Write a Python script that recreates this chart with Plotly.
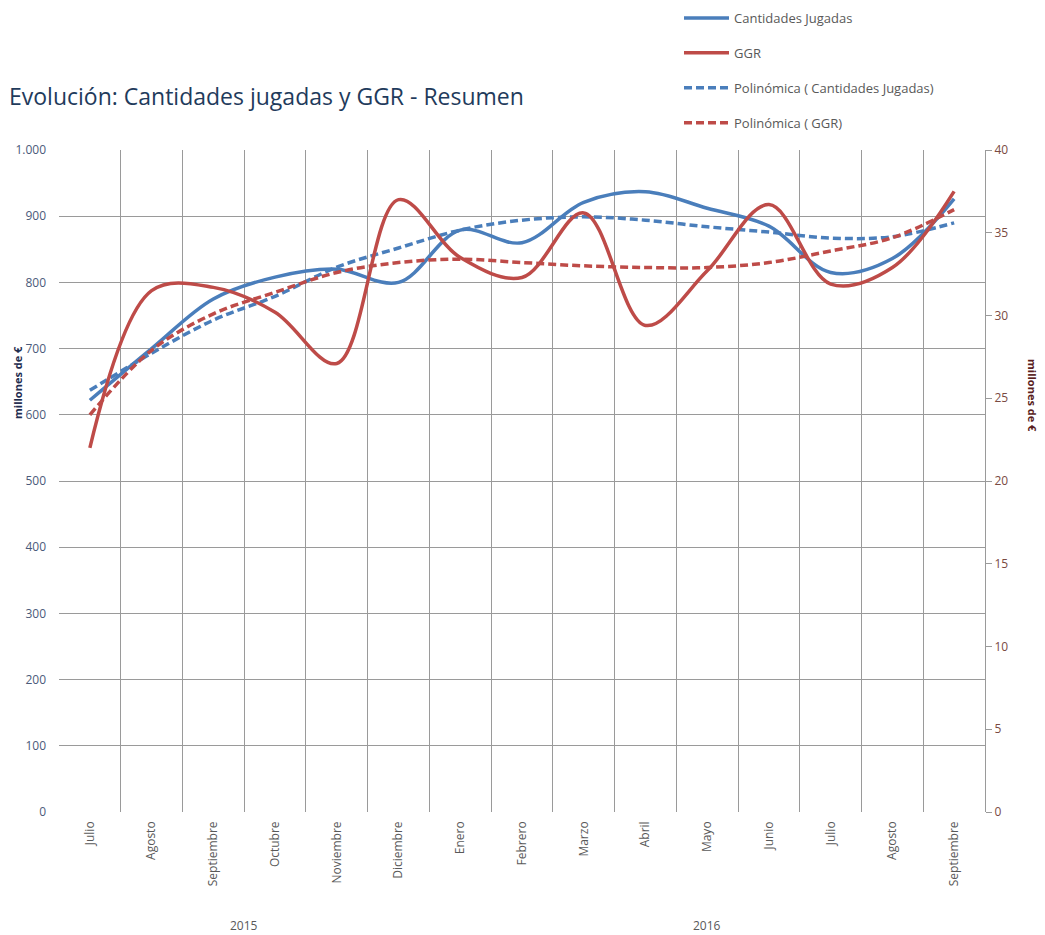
import plotly.graph_objects as go

# Category axis: year / month (two levels, like the Excel chart)
years = ['2015'] * 6 + ['2016'] * 9
months = ['Julio', 'Agosto', 'Septiembre', 'Octubre', 'Noviembre', 'Diciembre',
          'Enero', 'Febrero', 'Marzo', 'Abril', 'Mayo', 'Junio',
          'Julio', 'Agosto', 'Septiembre']

# millones de € (left axis)
cantidades = [622, 700, 775, 808, 820, 800, 879, 860, 921, 937, 912, 885, 815, 836, 926]
poli_cantidades = [637, 693, 743, 779, 823, 852, 879, 894, 899, 894, 884, 876, 867, 869, 890]

# millones de € (right axis)
ggr = [22.0, 31.5, 31.7, 30.2, 27.1, 37.0, 33.5, 32.3, 36.2, 29.4, 32.7, 36.7, 31.9, 32.9, 37.5]
poli_ggr = [24.0, 27.9, 30.1, 31.4, 32.6, 33.2, 33.4, 33.2, 33.0, 32.9, 32.9, 33.2, 33.9, 34.7, 36.4]

BLUE = '#4A7EBB'
RED = '#BE4B48'
GRID = '#9A9A9A'
FONT = 'Open Sans'

# months repeat, so position by index and label with ticktext
idx = list(range(len(months)))

fig = go.Figure()
fig.add_trace(go.Scatter(x=idx, y=cantidades, name='Cantidades Jugadas', legendgroup='a',
                         mode='lines', line=dict(color=BLUE, width=3.5, shape='spline')))
fig.add_trace(go.Scatter(x=idx, y=ggr, name='GGR', legendgroup='b', yaxis='y2',
                         mode='lines', line=dict(color=RED, width=3.5, shape='spline')))
fig.add_trace(go.Scatter(x=idx, y=poli_cantidades, name='Polinómica ( Cantidades Jugadas)', legendgroup='c',
                         mode='lines', line=dict(color=BLUE, width=3.5, shape='spline', dash='8px,4px')))
fig.add_trace(go.Scatter(x=idx, y=poli_ggr, name='Polinómica ( GGR)', legendgroup='d', yaxis='y2',
                         mode='lines', line=dict(color=RED, width=3.5, shape='spline', dash='8px,4px')))

# year labels centred under their months
annotations = []
for yr in sorted(set(years)):
    pos = [i for i, y in enumerate(years) if y == yr]
    annotations.append(dict(text=yr, x=sum(pos) / len(pos), xref='x', xanchor='center',
                            y=(812 - 925) / 662, yref='paper', yanchor='middle',
                            showarrow=False,
                            font=dict(family=FONT, size=12, color='#595959')))

# axis titles (Excel puts them off-centre)
annotations.append(dict(text='<b>millones de €</b>', textangle=-90,
                        x=(17 - 59) / 926, xref='paper', xanchor='center',
                        y=(812 - 383) / 662, yref='paper', yanchor='middle',
                        showarrow=False, font=dict(family=FONT, size=11, color='#1F2D4F')))
annotations.append(dict(text='<b>millones de €</b>', textangle=90,
                        x=(1033 - 59) / 926, xref='paper', xanchor='center',
                        y=(812 - 395) / 662, yref='paper', yanchor='middle',
                        showarrow=False, font=dict(family=FONT, size=11, color='#5A1E1E')))

# the page body has an 8px margin, so the figure is 8px smaller than the window
fig.update_layout(
    width=1037, height=927,
    margin=dict(l=51, r=60, t=142, b=123, autoexpand=False),
    paper_bgcolor='white', plot_bgcolor='white',
    font=dict(family=FONT, size=12, color='#595959'),
    separators=',.',
    title=dict(text='Evolución: Cantidades jugadas y GGR - Resumen',
               x=1 / 1037, xref='container', xanchor='left',
               y=1 - 89 / 927, yref='container', yanchor='middle',
               font=dict(family=FONT, size=23, color='#1F3B5C')),
    legend=dict(x=(679 - 59) / 926, xref='paper', xanchor='left',
                y=(812 - 3) / 662, yref='paper', yanchor='top',
                orientation='v', tracegroupgap=15, itemwidth=45,
                bgcolor='rgba(0,0,0,0)',
                font=dict(family=FONT, size=13, color='#595959')),
    showlegend=True,
    xaxis=dict(range=[-0.5, len(months) - 0.5], tickmode='array', tickvals=idx,
               ticktext=months, tickangle=-90, ticks='', showgrid=False,
               zeroline=False, showline=False, ticklabelstandoff=6,
               tickfont=dict(family=FONT, size=12, color='#595959'),
               minor=dict(tick0=-0.5, dtick=1, showgrid=True, gridcolor=GRID,
                          gridwidth=1, ticks='')),
    yaxis=dict(range=[0, 1000], dtick=100, showgrid=True, gridcolor=GRID,
               gridwidth=1, zeroline=False, showline=False,
               separatethousands=True, ticks='', ticklabelstandoff=12,
               tickfont=dict(family=FONT, size=12, color='#4A5A7A')),
    yaxis2=dict(range=[0, 40], dtick=5, overlaying='y', side='right',
                showgrid=False, zeroline=False, showline=True, linecolor=GRID,
                ticks='outside', ticklen=6, tickcolor=GRID,
                tickfont=dict(family=FONT, size=12, color='#7A4A42')),
    annotations=annotations,
    # Excel hides the horizontal axis line: mask the 0 gridline
    shapes=[dict(type='line', xref='paper', x0=0.002, x1=0.998, yref='y', y0=0, y1=0,
                 line=dict(color='white', width=2), layer='below')],
)

fig.write_html('out.html')
